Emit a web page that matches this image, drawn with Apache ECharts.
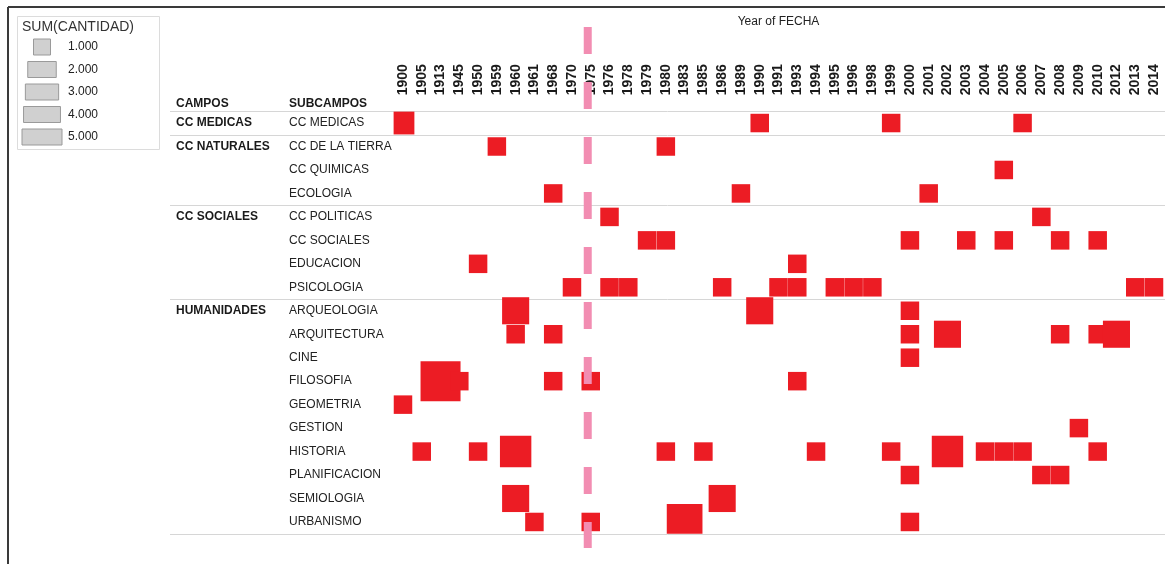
<!DOCTYPE html>
<html><head><meta charset="utf-8">
<script src="https://cdn.jsdelivr.net/npm/echarts@6/dist/echarts.min.js"></script>
<style>html,body{margin:0;padding:0;background:#fff}#c{width:1165px;height:564px}</style>
</head><body><div id="c"></div>
<script>
// ---------- DATA ----------
const years = ['1900','1905','1913','1945','1950','1959','1960','1961','1968','1970','1975','1976','1978','1979','1980','1983','1985','1986','1989','1990','1991','1993','1994','1995','1996','1998','1999','2000','2001','2002','2003','2004','2005','2006','2007','2008','2009','2010','2012','2013','2014'];
const subcampos = ['CC MEDICAS','CC DE LA TIERRA','CC QUIMICAS','ECOLOGIA','CC POLITICAS','CC SOCIALES','EDUCACION','PSICOLOGIA','ARQUEOLOGIA','ARQUITECTURA','CINE','FILOSOFIA','GEOMETRIA','GESTION','HISTORIA','PLANIFICACION','SEMIOLOGIA','URBANISMO'];
const campos = ['CC MEDICAS','CC NATURALES','CC SOCIALES','HUMANIDADES'];
const campoOfSubcampo = [0,1,1,1,2,2,2,2,3,3,3,3,3,3,3,3,3,3];
const legendValues = [1,2,3,4,5];
const markerYear = '1975';

// [year, subcampo, SUM(CANTIDAD)]
const medicasMarks = [
  ['1900','CC MEDICAS',2],['1990','CC MEDICAS',1],['1999','CC MEDICAS',1],['2006','CC MEDICAS',1]
];
const naturalesMarks = [
  ['1959','CC DE LA TIERRA',1],['1980','CC DE LA TIERRA',1],
  ['2005','CC QUIMICAS',1],
  ['1968','ECOLOGIA',1],['1989','ECOLOGIA',1],['2001','ECOLOGIA',1]
];
const socialesMarks = [
  ['1976','CC POLITICAS',1],['2007','CC POLITICAS',1],
  ['1979','CC SOCIALES',1],['1980','CC SOCIALES',1],['2000','CC SOCIALES',1],['2003','CC SOCIALES',1],['2005','CC SOCIALES',1],['2008','CC SOCIALES',1],['2010','CC SOCIALES',1],
  ['1950','EDUCACION',1],['1993','EDUCACION',1],
  ['1970','PSICOLOGIA',1],['1976','PSICOLOGIA',1],['1978','PSICOLOGIA',1],['1986','PSICOLOGIA',1],['1991','PSICOLOGIA',1],['1993','PSICOLOGIA',1],['1995','PSICOLOGIA',1],['1996','PSICOLOGIA',1],['1998','PSICOLOGIA',1],['2013','PSICOLOGIA',1],['2014','PSICOLOGIA',1]
];
const humanidadesMarks = [
  ['1960','ARQUEOLOGIA',3],['1990','ARQUEOLOGIA',3],['2000','ARQUEOLOGIA',1],
  ['1960','ARQUITECTURA',1],['1968','ARQUITECTURA',1],['2000','ARQUITECTURA',1],['2002','ARQUITECTURA',3],['2008','ARQUITECTURA',1],['2010','ARQUITECTURA',1],['2012','ARQUITECTURA',3],
  ['2000','CINE',1],
  ['1913','FILOSOFIA',6],['1945','FILOSOFIA',1],['1968','FILOSOFIA',1],['1975','FILOSOFIA',1],['1993','FILOSOFIA',1],
  ['1900','GEOMETRIA',1],
  ['2009','GESTION',1],
  ['1905','HISTORIA',1],['1950','HISTORIA',1],['1960','HISTORIA',4],['1980','HISTORIA',1],['1985','HISTORIA',1],['1994','HISTORIA',1],['1999','HISTORIA',1],['2002','HISTORIA',4],['2004','HISTORIA',1],['2005','HISTORIA',1],['2006','HISTORIA',1],['2010','HISTORIA',1],
  ['2000','PLANIFICACION',1],['2007','PLANIFICACION',1],['2008','PLANIFICACION',1],
  ['1960','SEMIOLOGIA',3],['1986','SEMIOLOGIA',3],
  ['1961','URBANISMO',1],['1975','URBANISMO',1],['1983','URBANISMO',5],['2000','URBANISMO',1]
];
const marks = medicasMarks.concat(naturalesMarks, socialesMarks, humanidadesMarks);

// ---------- CHART ----------
const FONT = '"Liberation Sans", Arial, sans-serif';
const RED = '#EC1C24';
function markSide(v){ return 14.2 + 4.3 * v; }
function legendWidth(v){ return 17 + 23 * Math.sqrt((v - 1) / 4); }

const chart = echarts.init(document.getElementById('c'), null, {renderer: 'canvas'});

const option = {
  animation: false,
  backgroundColor: '#ffffff',
  textStyle: {fontFamily: FONT},
  grid: {left: 393.6, right: 1.6, top: 111.3, bottom: 30.3, containLabel: false},
  xAxis: {
    type: 'category', data: years, position: 'top',
    name: 'Year of FECHA', nameLocation: 'middle', nameGap: 84,
    nameTextStyle: {fontFamily: FONT, fontSize: 12, color: '#222'},
    axisLine: {show: false}, axisTick: {show: false}, splitLine: {show: false},
    axisLabel: {rotate: -90, interval: 0, margin: 16, fontFamily: FONT, fontSize: 14, fontWeight: 'bold', color: '#1a1a1a'}
  },
  yAxis: [
    {
      type: 'category', data: subcampos, inverse: true,
      axisLine: {show: false}, axisTick: {show: false}, splitLine: {show: false},
      axisLabel: {interval: 0, align: 'left', margin: 104.6, fontFamily: FONT, fontSize: 12, color: '#222'}
    },
    {
      type: 'category', data: subcampos, inverse: true, position: 'left',
      axisLine: {show: false}, axisTick: {show: false}, splitLine: {show: false},
      axisLabel: {
        interval: 0, align: 'left', margin: 217.6, fontFamily: FONT, fontSize: 12, fontWeight: 'bold', color: '#1a1a1a',
        formatter: function(val, idx){
          const g = campoOfSubcampo[idx];
          return (idx === 0 || campoOfSubcampo[idx - 1] !== g) ? campos[g] : '';
        }
      }
    }
  ],
  series: [{
    type: 'custom',
    xAxisIndex: 0, yAxisIndex: 0,
    dimensions: ['year', 'subcampo', 'cantidad'],
    encode: {x: 0, y: 1},
    data: marks,
    z: 5,
    renderItem: function(params, api){
      const p = api.coord([api.value(0), api.value(1)]);
      const s = markSide(api.value(2));
      const cs = params.coordSys;
      const shape = echarts.graphic.clipRectByRect(
        {x: p[0] - s / 2, y: p[1] - s / 2, width: s, height: s},
        {x: cs.x, y: cs.y, width: cs.width, height: cs.height}
      );
      if (!shape) return null;
      return {type: 'rect', shape: shape, style: {fill: RED}};
    }
  }]
};
chart.setOption(option);

// ---------- Decorations computed from the axes ----------
const graphics = [];
graphics.push({type: 'line', shape: {x1: 8, y1: 7, x2: 1165, y2: 7}, style: {stroke: '#3a3a3a', lineWidth: 2}, z: 10});
graphics.push({type: 'line', shape: {x1: 8, y1: 7, x2: 8, y2: 564}, style: {stroke: '#3a3a3a', lineWidth: 2}, z: 10});

const rowY = subcampos.map(s => chart.convertToPixel({yAxisIndex: 0}, s));
const band = rowY[1] - rowY[0];
const sepYs = [rowY[0] - band / 2];
for (let i = 1; i < subcampos.length; i++) {
  if (campoOfSubcampo[i] !== campoOfSubcampo[i - 1]) sepYs.push((rowY[i - 1] + rowY[i]) / 2);
}
sepYs.push(rowY[rowY.length - 1] + band / 2);
sepYs.forEach(y => {
  const yy = Math.round(y) + 0.5;
  graphics.push({type: 'line', shape: {x1: 170, y1: yy, x2: 1165, y2: yy}, style: {stroke: '#d6d6d6', lineWidth: 1}, z: 1});
});

graphics.push({type: 'text', x: 176, y: 104, style: {text: 'CAMPOS', font: 'bold 12px ' + FONT, fill: '#1a1a1a', textVerticalAlign: 'middle'}, z: 10});
graphics.push({type: 'text', x: 289, y: 104, style: {text: 'SUBCAMPOS', font: 'bold 12px ' + FONT, fill: '#1a1a1a', textVerticalAlign: 'middle'}, z: 10});

const mx = chart.convertToPixel({xAxisIndex: 0}, markerYear) - 3;
graphics.push({type: 'line', shape: {x1: mx, y1: 27, x2: mx, y2: 548}, style: {stroke: '#F28DB2', lineWidth: 8, lineDash: [27, 28]}, z: 20});

graphics.push({type: 'rect', shape: {x: 17.5, y: 16.5, width: 142, height: 133}, style: {fill: '#fff', stroke: '#dcdcdc', lineWidth: 1}, z: 8});
graphics.push({type: 'text', x: 22, y: 27, style: {text: 'SUM(CANTIDAD)', font: '14px ' + FONT, fill: '#333', textVerticalAlign: 'middle'}, z: 10});
legendValues.forEach((v, i) => {
  const cy = 47 + i * 22.5;
  const w = legendWidth(v);
  graphics.push({type: 'rect', shape: {x: 42 - w / 2, y: cy - 8, width: w, height: 16}, style: {fill: '#d0d0d0', stroke: '#9a9a9a', lineWidth: 1}, z: 10});
  graphics.push({type: 'text', x: 68, y: cy, style: {text: v.toFixed(3), font: '12px ' + FONT, fill: '#222', textVerticalAlign: 'middle'}, z: 10});
});

chart.setOption({graphic: {elements: graphics}});
</script>
</body></html>
